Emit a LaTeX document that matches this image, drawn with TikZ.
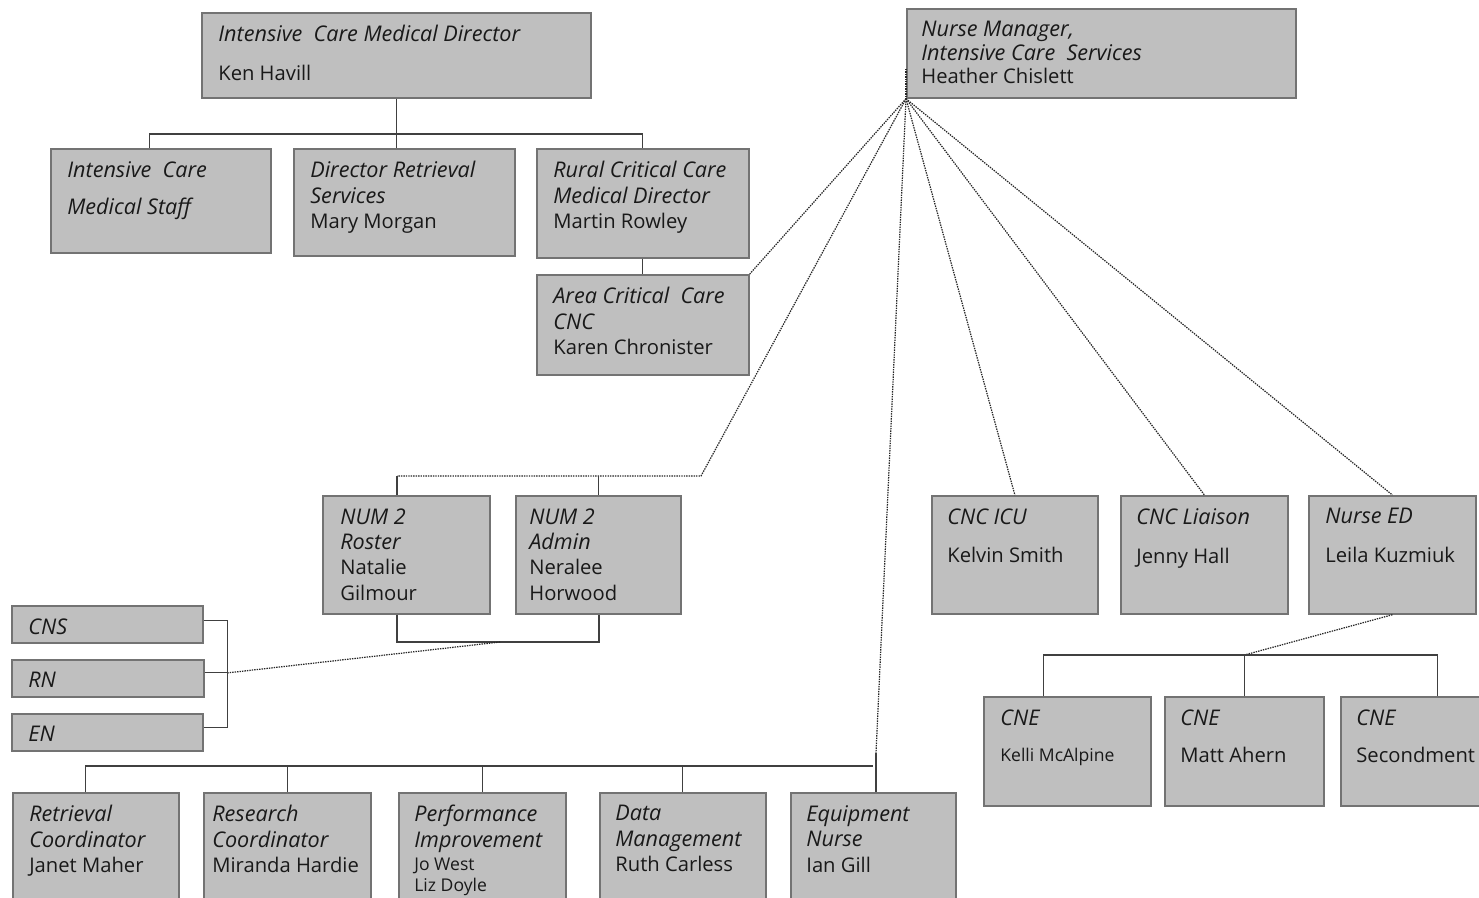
\documentclass[tikz,border=0pt]{standalone}
\usepackage{fontspec}
\setmainfont{Open Sans}
\newcommand{\cardfont}{\fontsize{11.5}{14.5}\selectfont}
\newcommand{\smallcard}{\fontsize{10}{12}\selectfont}
\newcommand{\role}[1]{{\fontsize{12.3}{14.5}\selectfont\itshape #1}}

\begin{document}
\begin{tikzpicture}[x=0.02cm, y=-0.02cm,
        card/.style={rectangle, draw=black!55, fill=black!25, line width=1pt, anchor=north west, inner sep=0pt},
        cardtext/.style={anchor=north west, align=left, inner sep=0pt, font=\cardfont, text=black!90},
        tie/.style={draw=black!75, line width=0.6pt},
        dotlink/.style={draw=black!85, line width=0.7pt, dash pattern=on 0.8pt off 0.6pt}
    ]
        \useasboundingbox (0,0) rectangle (1479,898);
        \clip (0,0) rectangle (1479,898);

        % medical side
        \node[card, minimum width=7.78cm, minimum height=1.70cm] (icmd) at (201,12) {};
        \node[cardtext] (icmd-t) at ([shift={(17,13)}]icmd.north west) {\role{Intensive\ \ Care Medical Director}\\[7.6pt]Ken Havill};
        \node[card, minimum width=4.40cm, minimum height=2.08cm] (icstaff) at (50,148) {};
        \node[cardtext] (icstaff-t) at ([shift={(17,13)}]icstaff.north west) {\role{Intensive\ \ Care}\\[7pt]\role{Medical Staff}};
        \node[card, minimum width=4.42cm, minimum height=2.14cm] (dirret) at (293,148) {};
        \node[cardtext] (dirret-t) at ([shift={(17,13)}]dirret.north west) {\role{Director Retrieval}\\\role{Services}\\Mary Morgan};
        \node[card, minimum width=4.24cm, minimum height=2.18cm] (rural) at (536,148) {};
        \node[cardtext] (rural-t) at ([shift={(17,13)}]rural.north west) {\role{Rural Critical Care}\\\role{Medical Director}\\Martin Rowley};
        \node[card, minimum width=4.24cm, minimum height=2.00cm] (area) at (536,274) {};
        \node[cardtext] (area-t) at ([shift={(17,13)}]area.north west) {\role{Area Critical\ \ Care}\\\role{CNC}\\Karen Chronister};

        % nursing side
        \node[card, minimum width=7.78cm, minimum height=1.78cm] (nm) at (906,8) {};
        \node[cardtext] (nm-t) at ([shift={(15,13)}]nm.north west) {\role{Nurse Manager,}\\[-1.2pt]\role{Intensive Care\ \ Services}\\[-1.2pt]Heather Chislett};

        \node[card, minimum width=3.34cm, minimum height=2.36cm] (roster) at (322,495) {};
        \node[cardtext] (roster-t) at ([shift={(18,13)}]roster.north west) {\role{NUM 2}\\\role{Roster}\\Natalie\\Gilmour};
        \node[card, minimum width=3.30cm, minimum height=2.36cm] (admin) at (515,495) {};
        \node[cardtext] (admin-t) at ([shift={(14,13)}]admin.north west) {\role{NUM 2}\\\role{Admin}\\Neralee\\Horwood};
        \node[card, minimum width=3.32cm, minimum height=2.36cm] (cncicu) at (931,495) {};
        \node[cardtext] (cncicu-t) at ([shift={(16,13)}]cncicu.north west) {\role{CNC ICU}\\[7.6pt]Kelvin Smith};
        \node[card, minimum width=3.34cm, minimum height=2.36cm] (liaison) at (1120,495) {};
        \node[cardtext] (liaison-t) at ([shift={(16,13)}]liaison.north west) {\role{CNC Liaison}\\[7.6pt]Jenny Hall};
        \node[card, minimum width=3.34cm, minimum height=2.36cm] (nurseed) at (1308,495) {};
        \node[cardtext] (nurseed-t) at ([shift={(17,13)}]nurseed.north west) {\role{Nurse ED}\\[7.6pt]Leila Kuzmiuk};

        \node[card, minimum width=3.82cm, minimum height=0.74cm] (cns) at (11,605) {};
        \node[cardtext] (cns-t) at ([shift={(17,13)}]cns.north west) {\role{CNS}};
        \node[card, minimum width=3.84cm, minimum height=0.74cm] (rn) at (11,659) {};
        \node[cardtext] (rn-t) at ([shift={(17,13)}]rn.north west) {\role{RN}};
        \node[card, minimum width=3.82cm, minimum height=0.74cm] (en) at (11,713) {};
        \node[cardtext] (en-t) at ([shift={(17,13)}]en.north west) {\role{EN}};

        \node[card, minimum width=3.34cm, minimum height=2.18cm] (kelli) at (983,696) {};
        \node[cardtext] (kelli-t) at ([shift={(17,13)}]kelli.north west) {\role{CNE}\\[6.3pt]{\smallcard Kelli McAlpine}};
        \node[card, minimum width=3.18cm, minimum height=2.18cm] (matt) at (1164,696) {};
        \node[cardtext] (matt-t) at ([shift={(16,13)}]matt.north west) {\role{CNE}\\[7pt]Matt Ahern};
        \node[card, minimum width=3.88cm, minimum height=2.18cm] (second) at (1340,696) {};
        \node[cardtext] (second-t) at ([shift={(16,13)}]second.north west) {\role{CNE}\\[7pt]Secondment};

        \node[card, minimum width=3.32cm, minimum height=2.40cm] (retr) at (12,792) {};
        \node[cardtext] (retr-t) at ([shift={(17,13)}]retr.north west) {\role{Retrieval}\\\role{Coordinator}\\Janet Maher};
        \node[card, minimum width=3.34cm, minimum height=2.40cm] (research) at (203,792) {};
        \node[cardtext] (research-t) at ([shift={(9,13)}]research.north west) {\role{Research}\\\role{Coordinator}\\Miranda Hardie};
        \node[card, minimum width=3.34cm, minimum height=2.40cm] (perf) at (398,792) {};
        \node[cardtext] (perf-t) at ([shift={(16,13)}]perf.north west) {\role{Performance}\\\role{Improvement}\\[-1.5pt]{\smallcard Jo West}\\[-2.6pt]{\smallcard Liz Doyle}};
        \node[card, minimum width=3.32cm, minimum height=2.40cm] (data) at (599,792) {};
        \node[cardtext] (data-t) at ([shift={(16,13)}]data.north west) {\role{Data}\\\role{Management}\\Ruth Carless};
        \node[card, minimum width=3.30cm, minimum height=2.40cm] (equip) at (790,792) {};
        \node[cardtext] (equip-t) at ([shift={(16,13)}]equip.north west) {\role{Equipment}\\\role{Nurse}\\Ian Gill};

        % solid reporting lines
        \coordinate (medbus) at (396,134);
        \draw[tie] (icmd.south) -- (icmd.south |- dirret.north);
        \draw[tie] ([xshift=-0.22cm]icstaff.north) |- (medbus) -| (rural.north);
        \draw[tie] (rural.south) -- (area.north);

        % dotted lines out of the nurse manager
        \coordinate (fan) at (nm.south west);
        \coordinate (numtop) at (701,476);
        \coordinate (numleft) at (397,476);
        \coordinate (numlow) at (599,642);
        \coordinate (nummid) at (500,642);
        \coordinate (eqtap) at (876,753);
        \coordinate (botbus) at ([yshift=0.52cm]equip.north);
        \coordinate (stafftap) at ([xshift=0.46cm, yshift=0.11cm]rn.east);
        \coordinate (cnebus) at ([yshift=0.82cm]matt.north);

        \draw[dotlink] ([yshift=0.6cm]fan) -- (fan);
        \draw[dotlink] (fan) -- (area.north east);
        \draw[dotlink] (fan) -- (numtop) -- (numleft);
        \draw[dotlink] (fan) -- (eqtap);
        \foreach \n in {cncicu, liaison, nurseed}
            \draw[dotlink] (fan) -- (\n.north);

        \draw[tie] (numleft) -- (numleft |- roster.north);
        \draw[tie] (admin.north) -- (admin.north |- numtop);
        \draw[tie] (numleft |- roster.south) |- (numlow) -- (numlow |- admin.south);
        \draw[dotlink] (nummid) -- (stafftap);
        \draw[tie] ([yshift=0.07cm]cns.east) -| (stafftap) |- ([yshift=0.09cm]en.east);
        \draw[tie] ([yshift=0.11cm]rn.east) -- (stafftap);

        \draw[tie] (eqtap) -- (eqtap |- equip.north);
        \draw[tie] ([xshift=-0.2cm]retr.north) |- (botbus);
        \foreach \n in {research, perf, data}
            \draw[tie] (\n.north) -- (\n.north |- botbus);

        \draw[dotlink] (nurseed.south) -- (cnebus);
        \draw[tie] ([xshift=-0.47cm]kelli.north) |- (cnebus) -| (second.north);
        \draw[tie] (cnebus) -- (matt.north);
    \end{tikzpicture}
\end{document}
